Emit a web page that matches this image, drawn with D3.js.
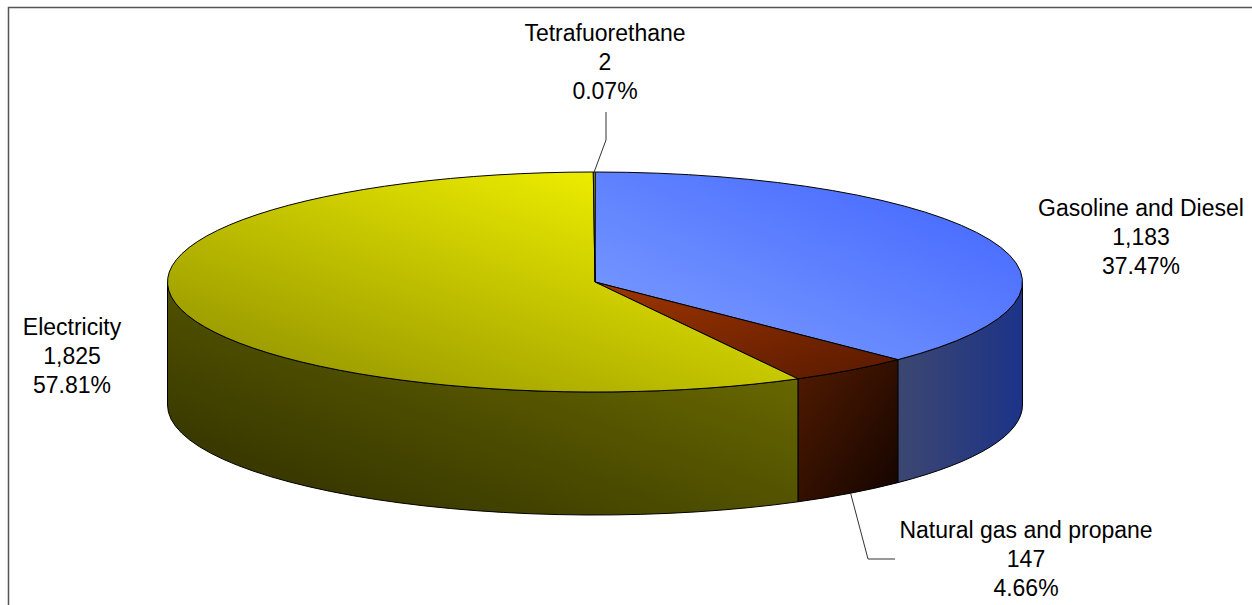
<!DOCTYPE html>
<html>
<head>
<meta charset="utf-8">
<script src="https://cdn.jsdelivr.net/npm/d3@7/dist/d3.min.js"></script>
<style>
  html, body { margin: 0; padding: 0; background: #fff; }
  text { font-family: "Liberation Sans", Arial, sans-serif; }
</style>
</head>
<body>
<div id="chart"></div>
<script>
// Data
const categories = ["Gasoline and Diesel", "Natural gas and propane", "Electricity", "Tetrafuorethane"];
const values = [1183, 147, 1825, 2];
const valueLabels = ["1,183", "147", "1,825", "2"];
const percentLabels = ["37.47%", "4.66%", "57.81%", "0.07%"];

// Look of each slice: [light, dark] for top face, then side face
const topColors = [["#7fa0ff", "#3f62ff"], ["#a03600", "#571900"], ["#ffff00", "#8a8a00"], ["#ffff00", "#8a8a00"]];
const sideColors = [["#3c4770", "#1c3388"], ["#521b00", "#120400"], ["#777700", "#2c2c00"], ["#777700", "#2c2c00"]];
// gradient direction in bounding box units: x1,y1,x2,y2 (light -> dark)
const topDir = [[0, 1, 1, 0], [0, 0, 1, 1], [1, 0, 0, 1], [1, 0, 0, 1]];
const sideDir = [[0, 0.5, 1, 0.5], [0, 0, 1, 1], [1, 0, 0, 1], [1, 0, 0, 1]];

const width = 1252, height = 605;
const cx = 595, cy = 282, rx = 427.5, ry = 110, depth = 123;

// label layout: centre x, first baseline, and leader line elbows
const labelLayout = [
    { x: 1141, y: 216 },
    { x: 1026, y: 538, leader: "bottom", elbow: [[868, 559], [895, 559]] },
    { x: 72, y: 335 },
    { x: 605, y: 41, leader: "top", elbow: [[606, 140], [606, 112]] }
];

const svg = d3.select("#chart").append("svg")
    .attr("width", width)
    .attr("height", height);

// chart frame (runs off the right and bottom)
svg.append("rect")
    .attr("x", 8.5).attr("y", 7.5)
    .attr("width", width + 20).attr("height", height + 20)
    .attr("fill", "#fff")
    .attr("stroke", "#555")
    .attr("stroke-width", 1.5);

const pie = d3.pie().sort(null).value(d => d)(values);

const P = (a, dy = 0) => [cx + rx * Math.sin(a), cy - ry * Math.cos(a) + dy];

function topPath(a0, a1) {
    const s = P(a0), e = P(a1);
    const large = (a1 - a0) > Math.PI ? 1 : 0;
    return `M${cx},${cy}L${s[0]},${s[1]}A${rx},${ry} 0 ${large} 1 ${e[0]},${e[1]}Z`;
}

function sidePath(a0, a1) {
    const s = Math.max(a0, Math.PI / 2), e = Math.min(a1, 3 * Math.PI / 2);
    if (e <= s) return null;
    const p0 = P(s), p1 = P(e), q1 = P(e, depth), q0 = P(s, depth);
    return `M${p0[0]},${p0[1]}A${rx},${ry} 0 0 1 ${p1[0]},${p1[1]}` +
        `L${q1[0]},${q1[1]}A${rx},${ry} 0 0 0 ${q0[0]},${q0[1]}Z`;
}

const defs = svg.append("defs");
function gradient(id, cols, dir) {
    const g = defs.append("linearGradient").attr("id", id)
        .attr("x1", dir[0]).attr("y1", dir[1]).attr("x2", dir[2]).attr("y2", dir[3]);
    g.append("stop").attr("offset", "0%").attr("stop-color", cols[0]);
    g.append("stop").attr("offset", "100%").attr("stop-color", cols[1]);
}
pie.forEach((d, i) => {
    gradient("top" + i, topColors[i], topDir[i]);
    gradient("side" + i, sideColors[i], sideDir[i]);
});

// side walls
svg.append("g").selectAll("path")
    .data(pie.filter(d => sidePath(d.startAngle, d.endAngle)))
    .join("path")
    .attr("d", d => sidePath(d.startAngle, d.endAngle))
    .attr("fill", d => `url(#side${d.index})`)
    .attr("stroke", "#000")
    .attr("stroke-width", 1)
    .attr("stroke-linejoin", "round");

// top faces
svg.append("g").selectAll("path")
    .data(pie)
    .join("path")
    .attr("d", d => topPath(d.startAngle, d.endAngle))
    .attr("fill", d => `url(#top${d.index})`)
    .attr("stroke", "#000")
    .attr("stroke-width", 1)
    .attr("stroke-linejoin", "round");

// leader lines
pie.forEach((d, i) => {
    const lay = labelLayout[i];
    if (!lay.leader) return;
    const mid = (d.startAngle + d.endAngle) / 2;
    const start = lay.leader === "top" ? P(mid) : P(mid, depth);
    svg.append("path")
        .attr("d", d3.line()([start, ...lay.elbow]))
        .attr("fill", "none")
        .attr("stroke", "#333")
        .attr("stroke-width", 1);
});

// labels
pie.forEach((d, i) => {
    const lay = labelLayout[i];
    const t = svg.append("text")
        .attr("x", lay.x).attr("y", lay.y)
        .attr("text-anchor", "middle")
        .attr("font-size", "23px")
        .attr("fill", "#000");
    [categories[i], valueLabels[i], percentLabels[i]].forEach((s, k) => {
        t.append("tspan").attr("x", lay.x).attr("y", lay.y + k * 29).text(s);
    });
});
</script>
</body>
</html>
